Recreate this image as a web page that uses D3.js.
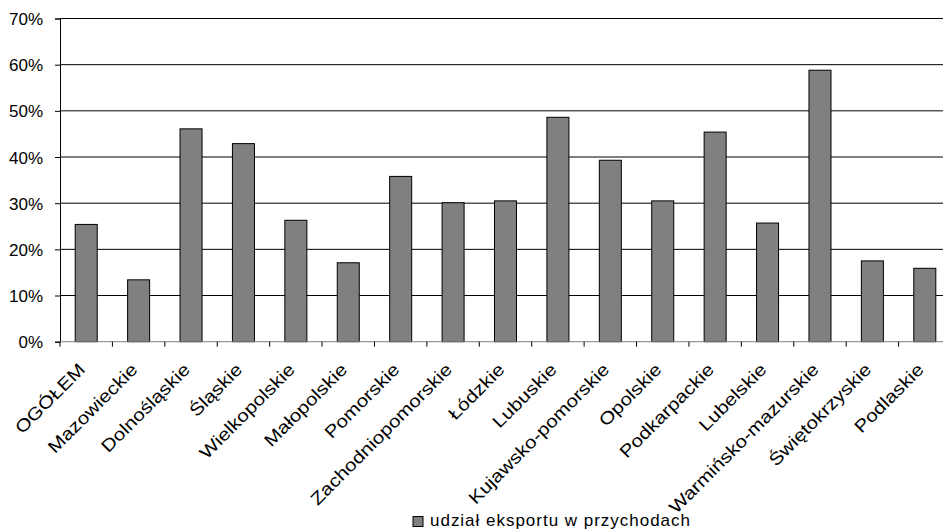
<!DOCTYPE html>
<html lang="pl">
<head>
<meta charset="utf-8" />
<title>Udział eksportu w przychodach</title>
<script src="https://cdn.jsdelivr.net/npm/d3@7/dist/d3.min.js"></script>
<style>
  body { margin: 0; background: #fff; }
  svg { display: block; }
  text { font-family: "Liberation Sans", Arial, sans-serif; fill: #000; }
</style>
</head>
<body>
<svg width="943" height="529"></svg>
<script>
// data
var regions = ['OGÓŁEM', 'Mazowieckie', 'Dolnośląskie', 'Śląskie', 'Wielkopolskie', 'Małopolskie',
  'Pomorskie', 'Zachodniopomorskie', 'Łódzkie', 'Lubuskie', 'Kujawsko-pomorskie', 'Opolskie',
  'Podkarpackie', 'Lubelskie', 'Warmińsko-mazurskie', 'Świętokrzyskie', 'Podlaskie'];
var exportShare = [25.4, 13.4, 46.1, 42.9, 26.3, 17.1, 35.8, 30.1, 30.5, 48.6, 39.3, 30.5,
  45.4, 25.7, 58.8, 17.5, 15.9];
var yTicks = [0, 10, 20, 30, 40, 50, 60, 70];
var seriesName = 'udział eksportu w przychodach';

var svg = d3.select('svg');
// plot box (right edge lies past the picture, as in the reference)
var plotLeft = 60, plotRight = 951, plotTop = 18.5, plotBottom = 341.7;

var x = d3.scaleBand()
  .domain(regions)
  .range([plotLeft, plotRight])
  .paddingInner(0.58)
  .paddingOuter(0.29);

var y = d3.scaleLinear()
  .domain([0, 70])
  .range([plotBottom, plotTop]);

// gridlines
svg.append('g')
  .selectAll('line')
  .data(yTicks.slice(1))
  .enter().append('line')
  .attr('x1', plotLeft).attr('x2', plotRight)
  .attr('y1', function(d) { return y(d); })
  .attr('y2', function(d) { return y(d); })
  .attr('stroke', '#000')
  .attr('stroke-width', 1);

// y axis
var yAxis = svg.append('g')
  .attr('transform', 'translate(' + plotLeft + ',0)')
  .call(d3.axisLeft(y).tickValues(yTicks).tickSize(5).tickPadding(12)
    .tickFormat(function(d) { return d + '%'; }));
yAxis.select('.domain').attr('stroke', '#000');
yAxis.selectAll('.tick line').attr('stroke', '#000');
yAxis.selectAll('text')
  .attr('font-size', 17)
  .attr('font-family', '"Liberation Sans", Arial, sans-serif')
  .attr('dy', '0.36em');

// bars
svg.append('g')
  .selectAll('rect')
  .data(regions)
  .enter().append('rect')
  .attr('x', function(d) { return x(d); })
  .attr('width', x.bandwidth())
  .attr('y', function(d, i) { return y(exportShare[i]); })
  .attr('height', function(d, i) { return plotBottom - y(exportShare[i]); })
  .attr('fill', '#808080')
  .attr('stroke', '#000')
  .attr('stroke-width', 1);

// x axis with ticks on band boundaries
var step = x.step();
var xg = svg.append('g');
xg.append('line')
  .attr('x1', plotLeft).attr('x2', plotRight)
  .attr('y1', plotBottom).attr('y2', plotBottom)
  .attr('stroke', '#808080');
xg.selectAll('.xtick')
  .data(d3.range(regions.length + 1))
  .enter().append('line')
  .attr('class', 'xtick')
  .attr('x1', function(i) { return plotLeft + i * step; })
  .attr('x2', function(i) { return plotLeft + i * step; })
  .attr('y1', plotBottom).attr('y2', plotBottom + 5)
  .attr('stroke', '#000');

xg.selectAll('.xlabel')
  .data(regions)
  .enter().append('text')
  .attr('class', 'xlabel')
  .attr('text-anchor', 'end')
  .attr('font-size', 17.5)
  .attr('transform', function(d) {
    return 'translate(' + (x(d) + x.bandwidth() / 2) + ',' + (plotBottom + 29) + ') rotate(-45) scale(1.18,1)';
  })
  .text(function(d) { return d; });

// legend
var legend = svg.append('g').attr('transform', 'translate(413,516.5)');
legend.append('rect')
  .attr('width', 10).attr('height', 10)
  .attr('fill', '#808080').attr('stroke', '#000');
legend.append('text')
  .attr('x', 17).attr('y', 9.5)
  .attr('font-size', 17)
  .attr('textLength', 260)
  .text(seriesName);
</script>
</body>
</html>
